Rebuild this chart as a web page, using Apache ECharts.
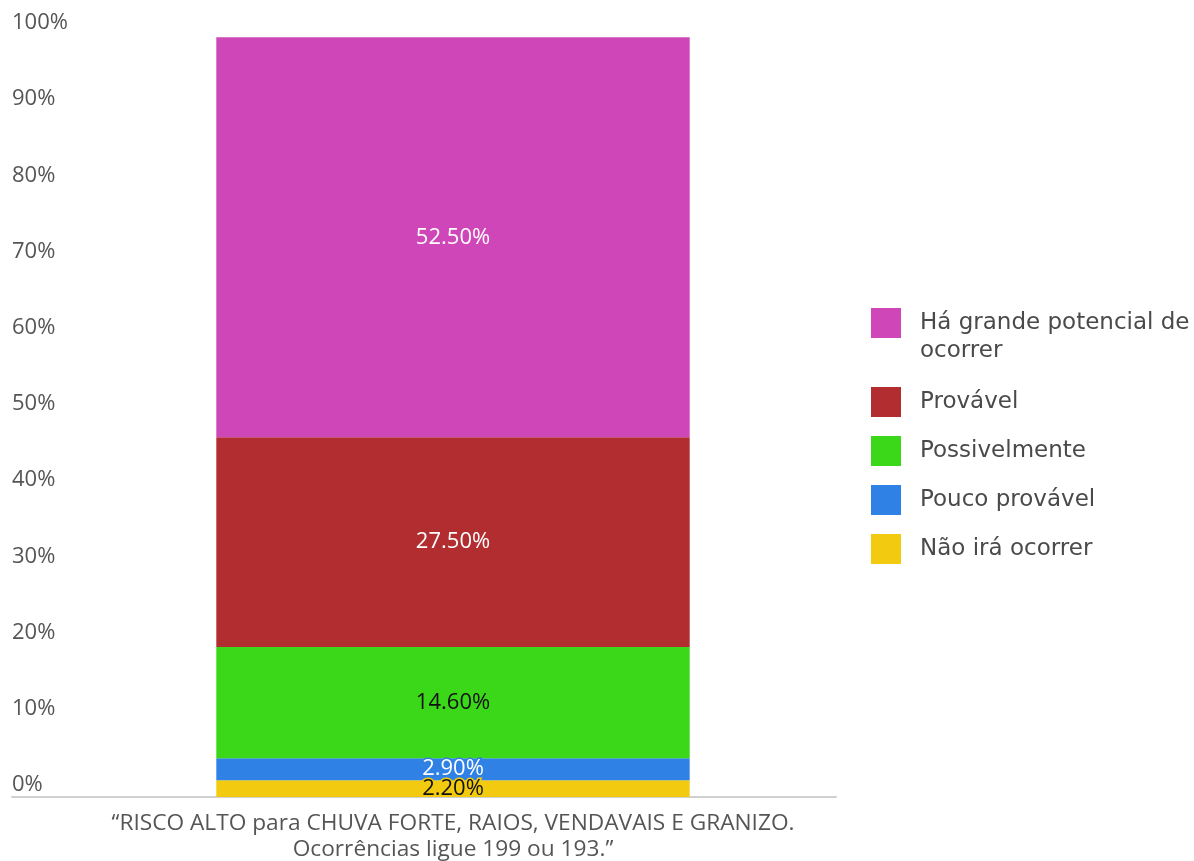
<!DOCTYPE html>
<html>
<head>
<meta charset="utf-8">
<script src="https://cdn.jsdelivr.net/npm/echarts@6/dist/echarts.min.js"></script>
<style>
  html, body { margin: 0; padding: 0; background: #ffffff; }
  #chart { width: 1194px; height: 861px; }
</style>
</head>
<body>
<div id="chart"></div>
<script>
// Single stacked column: share of answers per risk level
const categories = ['“RISCO ALTO para CHUVA FORTE, RAIOS, VENDAVAIS E GRANIZO.\nOcorrências ligue 199 ou 193.”'];
const seriesNames = ['Não irá ocorrer', 'Pouco provável', 'Possivelmente', 'Provável', 'Há grande potencial de ocorrer'];
const naoIraOcorrer = [2.2];
const poucoProvavel = [2.9];
const possivelmente = [14.6];
const provavel = [27.5];
const grandePotencial = [52.5];
const yTicks = [0, 10, 20, 30, 40, 50, 60, 70, 80, 90, 100];

const colors = ['#f2cb10', '#2f81e5', '#3bd81a', '#b22d2f', '#cf46b8'];
const labelColors = ['#111111', '#ffffff', '#111111', '#ffffff', '#ffffff'];
const labelBorders = ['#f2cb10', '#2f81e5', null, null, null];
const values = [naoIraOcorrer, poucoProvavel, possivelmente, provavel, grandePotencial];

const chart = echarts.init(document.getElementById('chart'));

const series = seriesNames.map((name, i) => ({
  name: name,
  type: 'bar',
  stack: 'total',
  xAxisIndex: 1,
  yAxisIndex: 1,
  barWidth: '61.8%',
  data: values[i],
  itemStyle: { color: colors[i] },
  label: {
    show: true,
    position: 'inside',
    formatter: p => p.value.toFixed(2) + '%',
    fontFamily: 'Open Sans',
    fontSize: 22,
    lineHeight: 24,
    padding: [14, 0, 0, 0],
    color: labelColors[i],
    textBorderColor: labelBorders[i] || 'transparent',
    textBorderWidth: labelBorders[i] ? 3 : 0
  },
  emphasis: { disabled: true }
}));

chart.setOption({
  animation: false,
  backgroundColor: '#ffffff',
  grid: [
    // full-width baseline under the labels
    { left: 12, right: 358, top: 35, bottom: 64, outerBoundsMode: 'none' },
    // plotting area for the column
    { left: 70, right: 358, top: 35, bottom: 64, outerBoundsMode: 'none' }
  ],
  legend: {
    orient: 'vertical',
    left: 871,
    top: 278,
    padding: 0,
    itemWidth: 30,
    itemHeight: 30,
    itemGap: 19,
    icon: 'rect',
    textStyle: {
      fontFamily: 'DejaVu Sans', fontSize: 23, color: '#4a4a4a', lineHeight: 28,
      padding: [0, 0, 0, 14]
    },
    formatter: n => n === 'Há grande potencial de ocorrer' ? '\nHá grande potencial de\nocorrer' : n,
    data: [
      { name: 'Há grande potencial de ocorrer', textStyle: { padding: [0, 0, 6, 14] } },
      'Provável', 'Possivelmente', 'Pouco provável', 'Não irá ocorrer'
    ]
  },
  xAxis: [
    {
      gridIndex: 0, type: 'category', data: [''],
      axisLine: { show: true, lineStyle: { color: '#d0d0d0', width: 2 } },
      axisTick: { show: false }, axisLabel: { show: false }
    },
    {
      gridIndex: 1, type: 'category', data: categories,
      axisLine: { show: false }, axisTick: { show: false },
      axisLabel: {
        margin: 14,
        fontFamily: 'Open Sans',
        fontSize: 22.7,
        lineHeight: 26,
        color: '#555555',
        align: 'center',
        verticalAlign: 'top'
      }
    }
  ],
  yAxis: [
    { gridIndex: 0, type: 'value', min: 0, max: 100, show: false },
    {
      gridIndex: 1, type: 'value', min: yTicks[0], max: yTicks[yTicks.length - 1], interval: 10,
      axisLine: { show: false }, axisTick: { show: false },
      splitLine: { show: false },
      axisLabel: {
        formatter: '{value}%',
        align: 'left',
        margin: 58,
        verticalAlign: 'bottom',
        lineHeight: 22,
        padding: [0, 0, 1, 0],
        fontFamily: 'Open Sans',
        fontSize: 22,
        color: '#555555'
      }
    }
  ],
  series: series
});
</script>
</body>
</html>
